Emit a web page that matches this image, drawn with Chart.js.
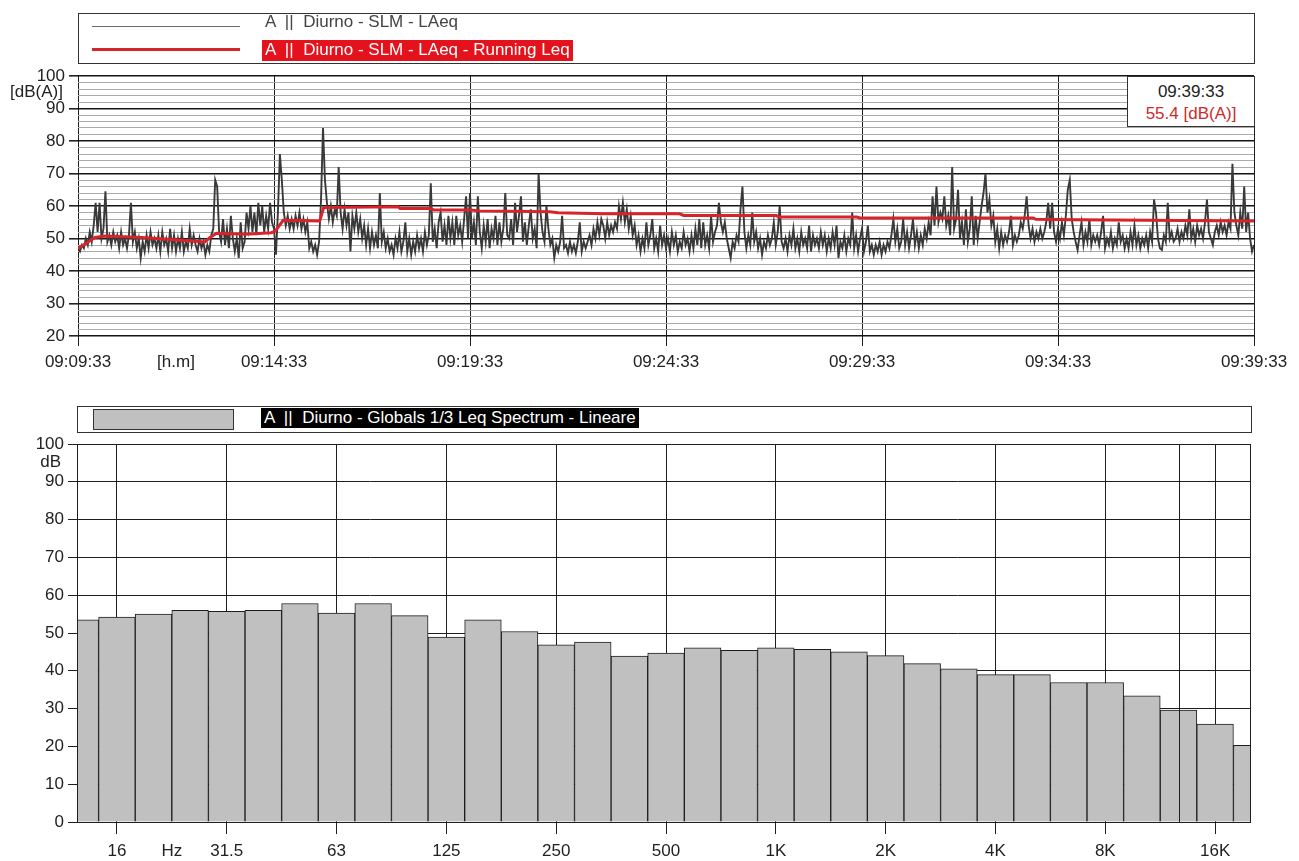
<!DOCTYPE html>
<html lang="it">
<head>
<meta charset="utf-8">
<title>Diurno - SLM - LAeq / Globals 1/3 Leq Spectrum</title>
<script src="https://cdn.jsdelivr.net/npm/chart.js@4.4.1/dist/chart.umd.min.js"></script>
<style>
  html, body { margin: 0; padding: 0; background: #fff; }
  body { position: relative; width: 1299px; height: 861px; overflow: hidden;
         font-family: "Liberation Sans", Arial, sans-serif; font-size: 17px; }
  canvas { position: absolute; left: 0; }
  .abs { position: absolute; box-sizing: border-box; }
  .frame { border: 1px solid #333; background: #fff; }
  .lbl { white-space: pre; line-height: 20px; }
</style>
</head>
<body>
<canvas id="history" width="1299" height="380" style="top:0"></canvas>
<canvas id="spectrum" width="1299" height="466" style="top:395px"></canvas>

<!-- time history legend -->
<div class="abs frame" style="left:78px;top:13px;width:1177px;height:51px"></div>
<div class="abs" style="left:92px;top:26px;width:148px;height:1px;background:#6a6a6a"></div>
<div class="abs lbl" id="lgLaeq" style="left:265px;top:12px;color:#444"></div>
<div class="abs" style="left:92px;top:48px;width:148px;height:3px;background:#d8232a"></div>
<div class="abs lbl" id="lgLeq" style="left:262px;top:40px;height:21px;padding:0 3px;background:#e3121c;color:#fff"></div>

<!-- cursor readout -->
<div class="abs frame" style="left:1127px;top:76px;width:128px;height:51px;text-align:center;padding-top:4px;line-height:22px">
  <div id="roTime" style="color:#222"></div>
  <div id="roValue" style="color:#cc2b2b"></div>
</div>

<!-- spectrum legend -->
<div class="abs frame" style="left:77px;top:406px;width:1175px;height:27px"></div>
<div class="abs" style="left:93px;top:409px;width:141px;height:21px;background:#c0c0c0;border:1px solid #333"></div>
<div class="abs lbl" id="lgSpec" style="left:261px;top:408px;height:20px;padding:0 3px;background:#000;color:#fff"></div>

<script>
// ---- Time history: LAeq sampled every 3 s, 09:09:33 - 09:39:33 ----
const sampleStep = 3; // seconds
const laeq = [
  47,46,48,47,50,48,52,49,54,61,52,61,50,53,64.5,49,51,48,52,49,
  51,47,52,48,50,47,51,61,49,52,47,50,44,49,46,51,47,52,48,50,
  47,51,46,52,48,50,46,53,47,51,46,50,47,52,46,49,47,53,48,51,
  48,46,50,47,49,45,48,46,51,53,68,66,52,49,56,48,53,47,57,50,
  46,50,44,55,47,49,58,53,60,52,58,51,61,54,60,52,57,53,61,55,
  53,45,58,76,68,58,54,57,53,56,53,57,54,58,53,56,52,55,47,49,
  46,48,45,49,62,84,68,61,56,60,55,59,57,72,58,53,59,54,58,46,
  57,53,58,52,56,50,54,48,53,47,52,48,51,47,64,49,52,47,50,46,
  48,45,50,47,52,46,49,55,46,50,45,49,46,51,47,50,46,52,48,51,
  67,49,53,47,55,58,49,54,48,57,50,55,48,57,51,54,49,56,63,50,
  64,50,55,48,63,52,47,54,49,56,47,53,50,57,48,55,49,53,64,51,
  50,56,48,61,52,57,63,49,55,48,54,59,50,53,47,70,58,52,49,60,
  53,48,50,44,48,46,49,57,47,48,45.5,49,46,48,45.5,49,55,46,49,47,
  49,51,48,53,50,55,51,56,54,50,55,51,54,52,55,53,60,56,61,55,
  59,53,57,51,54,48,51,46,50,47,55,48,51,56,47,50,46,54,48,51,
  47,50,46,52,48,51,46,49,47,52,48,50,46,51,47,53,48,56,47,55,
  48,51,47,57,49,52,54,61,55,52,55,50,47,44,49,47,51,49,59,66,
  52,47,51,48,58,49,52,47,50,45,49,47,51,48,50,55,48,52,60,49,
  47,50,46,51,48,53,47,50,46,52,48,50,47,54,46,51,48,50,47,52,
  48,51,46,50,47,52,48,54,44,49,47,51,46,50,48,58,47,51,46,50,
  53,46,49,54,46,48,45,48,46,49,45,48,46,49,47,51,56,49,53,47,
  49,56,48,52,47,51,56,48,52,47,51,48,53,50,55,51,63,54,66,55,
  58,56,63,54,57,51,72,53,56,65,50,55,48,59,49,53,63,48,57,50,
  55,60,64,70,58,62,54,57,49,53,47,52,48,51,49,52,57,48,51,49,
  51,55,53,57,63,54,50,53,49,52,50,53,50,52,55,61,53,61,52,49,
  53,50,55,51,57,65,68,56,52,49,46.5,51,55,48,52,49,56,48,51,49,
  51,48,52,57,47,50,48,52,47,50,48,55,49,51,47,50,47,52,48,54,
  48,51,47,50,48,51,47,52,49,62,58,50,47,46.5,51,49,61,50,52,49,
  50,53,49,52,50,54,51,59,50,53,49,54,51,53,50,55,62,52,50,48,
  52,54,51,55,52,54,51,55,53,73,58,54,51,58,53,66,52,58,50,46,
  48
];

// Running Leq: breakpoints (seconds from start) and levels
const leqTimes  = [0, 10, 26, 41, 97, 148, 194, 202, 212, 256, 296, 302, 314, 370, 376, 490, 493,
                   539, 545, 600, 615, 722, 735, 804, 921, 927, 1069, 1072, 1192, 1197, 1462, 1466, 1529, 1800];
const leqValues = [47.0, 48.2, 50.3, 50.8, 50.3, 49.6, 48.9, 50.3, 51.6, 51.3, 51.8, 52.3, 55.6, 55.4, 59.5, 59.8, 59.2,
                   59.2, 58.8, 58.8, 58.5, 58.2, 57.9, 57.6, 57.6, 57.1, 57.1, 56.6, 56.6, 56.3, 56.3, 55.9, 55.8, 55.4];

const timeTicks = ['09:09:33', '09:14:33', '09:19:33', '09:24:33', '09:29:33', '09:34:33', '09:39:33'];
const timeTickStep = 300;          // seconds between time labels
const timeUnit = '[h.m]';
const historyNames = ['A  ||  Diurno - SLM - LAeq', 'A  ||  Diurno - SLM - LAeq - Running Leq'];

// ---- 1/3 octave spectrum ----
const bandCentres = ['12.5','16','20','25','31.5','40','50','63','80','100','125','160','200','250','315','400',
                     '500','630','800','1K','1.25K','1.6K','2K','2.5K','3.15K','4K','5K','6.3K','8K','10K',
                     '12.5K','16K','20K'];
const bandLevels  = [53.5, 54.2, 55.0, 56.0, 55.7, 56.0, 57.8, 55.3, 57.8, 54.6, 48.9, 53.5, 50.4, 46.9, 47.6, 43.9,
                     44.7, 46.1, 45.4, 46.1, 45.7, 45.0, 44.0, 41.9, 40.5, 39.0, 39.0, 36.9, 36.9, 33.4,
                     29.6, 25.9, 20.3];
const markerBand = '12.5K';
const freqUnit = 'Hz';
const spectrumName = 'A  ||  Diurno - Globals 1/3 Leq Spectrum - Lineare';

// ---- shared look ----
const FONT = '"Liberation Sans", Arial, sans-serif';
Chart.defaults.font.family = FONT;
Chart.defaults.font.size = 17;
Chart.defaults.color = '#222';
Chart.defaults.animation = false;

document.getElementById('lgLaeq').textContent = historyNames[0];
document.getElementById('lgLeq').textContent = historyNames[1];
document.getElementById('lgSpec').textContent = spectrumName;
document.getElementById('roTime').textContent = timeTicks[timeTicks.length - 1];
document.getElementById('roValue').textContent = leqValues[leqValues.length - 1].toFixed(1) + ' [dB(A)]';

function unitLabel(id, text, value, offset) {
  return {
    id,
    afterDraw(chart) {
      const y = chart.scales.y, ctx = chart.ctx;
      ctx.save();
      ctx.font = '17px ' + FONT;
      ctx.fillStyle = '#222';
      ctx.textAlign = 'right';
      ctx.textBaseline = 'middle';
      ctx.fillText(text, y.right - offset, y.getPixelForValue(value));
      ctx.restore();
    }
  };
}

// ---- time history chart ----
const unitPos = timeTickStep / 2;
new Chart(document.getElementById('history'), {
  type: 'line',
  data: {
    datasets: [
      {
        label: historyNames[1],
        data: leqTimes.map((t, i) => ({ x: t, y: leqValues[i] })),
        borderColor: '#d8232a', borderWidth: 3, pointRadius: 0, tension: 0
      },
      {
        label: historyNames[0],
        data: laeq.map((v, i) => ({ x: i * sampleStep, y: v })),
        borderColor: '#393939', borderWidth: 1.9, pointRadius: 0, tension: 0,
        borderJoinStyle: 'miter'
      }
    ]
  },
  options: {
    responsive: false,
    layout: { padding: { left: 0, top: 76, right: 45, bottom: 0 } },
    plugins: { legend: { display: false }, tooltip: { enabled: false } },
    scales: {
      x: {
        type: 'linear', min: 0, max: timeTickStep * (timeTicks.length - 1),
        afterBuildTicks: s => {
          const t = timeTicks.map((_, i) => ({ value: i * timeTickStep }));
          t.splice(1, 0, { value: unitPos });
          s.ticks = t;
        },
        afterFit: s => { s.height = 44; },
        border: { display: false },
        grid: {
          color: c => (c.tick && c.tick.value === unitPos) ? 'rgba(0,0,0,0)' : '#1e1e1e',
          tickColor: c => (c.tick && c.tick.value === unitPos) ? 'rgba(0,0,0,0)' : '#1e1e1e',
          lineWidth: 1, borderDash: [4, 2], tickBorderDash: [], tickLength: 10
        },
        ticks: {
          autoSkip: false, maxRotation: 0, padding: 6, color: '#222',
          callback: v => v === unitPos ? timeUnit : timeTicks[Math.round(v / timeTickStep)]
        }
      },
      y: {
        min: 20, max: 100,
        afterBuildTicks: s => {
          const t = [];
          for (let v = 20; v <= 100; v += 2) t.push({ value: v });
          s.ticks = t;
        },
        afterFit: s => { s.width = 78; },
        border: { display: false },
        grid: {
          color: c => c.tick.value % 10 === 0 ? '#151515' : '#ababab',
          lineWidth: c => c.tick.value % 10 === 0 ? 1.6 : 1,
          tickColor: c => c.tick.value % 10 === 0 ? '#222' : 'rgba(0,0,0,0)',
          tickLength: 9
        },
        ticks: {
          autoSkip: false, padding: 4, color: '#222',
          callback: v => v % 10 === 0 ? String(v) : ''
        }
      }
    }
  },
  plugins: [unitLabel('dbaUnit', '[dB(A)]', 95, 15)]
});

// ---- spectrum chart ----
const octaveTicks = [];
for (let p = 0; p <= 30; p += 3) octaveTicks.push(p);   // band positions of octave centres (16 Hz = 0)
const hzPos = 1.5;
const markerPos = bandCentres.indexOf(markerBand) - 1;

const spectrumFrame = {
  id: 'spectrumFrame',
  afterDatasetsDraw(chart) {
    const { ctx, chartArea: a, scales: { x } } = chart;
    ctx.save();
    ctx.strokeStyle = '#1e1e1e';
    ctx.lineWidth = 1;
    const mx = Math.round(x.getPixelForValue(markerPos)) + 0.5;
    ctx.beginPath();
    ctx.moveTo(mx, a.top); ctx.lineTo(mx, a.bottom);
    ctx.stroke();
    ctx.strokeRect(Math.round(a.left) + 0.5, Math.round(a.top) + 0.5,
                   Math.round(a.right - a.left) - 1, Math.round(a.bottom - a.top));
    ctx.restore();
  }
};

new Chart(document.getElementById('spectrum'), {
  type: 'bar',
  data: {
    datasets: [{
      label: spectrumName,
      data: bandLevels.map((v, i) => ({ x: i - 1, y: v })),
      backgroundColor: '#c0c0c0',
      borderColor: '#1e1e1e',
      borderWidth: { top: 1, left: 1, right: 1, bottom: 0 },
      borderSkipped: false,
      barThickness: 'flex', categoryPercentage: 1, barPercentage: 1,
      clip: 0
    }]
  },
  options: {
    responsive: false,
    layout: { padding: { left: 0, top: 49, right: 48, bottom: 0 } },
    plugins: { legend: { display: false }, tooltip: { enabled: false } },
    scales: {
      x: {
        type: 'linear', min: -1.09, max: 30.98, offset: false,
        afterBuildTicks: s => {
          const t = octaveTicks.map(v => ({ value: v }));
          t.splice(1, 0, { value: hzPos });
          s.ticks = t;
        },
        afterFit: s => { s.height = 39; },
        border: { display: false },
        grid: {
          offset: false,
          color: c => (c.tick && c.tick.value === hzPos) ? 'rgba(0,0,0,0)' : '#1e1e1e',
          tickColor: c => (c.tick && c.tick.value === hzPos) ? 'rgba(0,0,0,0)' : '#1e1e1e',
          tickLength: 12
        },
        ticks: {
          autoSkip: false, maxRotation: 0, padding: 7, color: '#222',
          callback: v => v === hzPos ? freqUnit : bandCentres[Math.round(v) + 1]
        }
      },
      y: {
        min: 0, max: 100,
        afterBuildTicks: s => {
          const t = [];
          for (let v = 0; v <= 100; v += 10) t.push({ value: v });
          s.ticks = t;
        },
        afterFit: s => { s.width = 77; },
        border: { display: false },
        grid: { color: '#1e1e1e', tickColor: '#1e1e1e', tickLength: 9 },
        ticks: { autoSkip: false, padding: 4, color: '#222' }
      }
    }
  },
  plugins: [spectrumFrame, unitLabel('dbUnit', 'dB', 95.2, 16)]
});
</script>
</body>
</html>
